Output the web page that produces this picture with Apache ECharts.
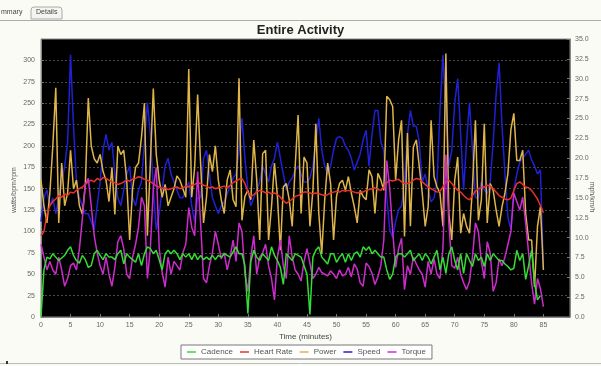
<!DOCTYPE html>
<html><head><meta charset="utf-8">
<script src="https://cdn.jsdelivr.net/npm/echarts@6/dist/echarts.min.js"></script>
<style>html,body{margin:0;padding:0;background:#fbfbf6;}#c{width:601px;height:366px;}</style>
</head><body><div id="c"></div>
<script>
const title = 'Entire Activity';
const seriesNames = ['Cadence', 'Heart Rate', 'Power', 'Speed', 'Torque'];
const time = [0,0.5,1,1.5,2,2.5,3,3.5,4,4.5,5,5.5,6,6.5,7,7.5,8,8.5,9,9.5,10,10.5,11,11.5,12,12.5,13,13.5,14,14.5,15,15.5,16,16.5,17,17.5,18,18.5,19,19.5,20,20.5,21,21.5,22,22.5,23,23.5,24,24.5,25,25.5,26,26.5,27,27.5,28,28.5,29,29.5,30,30.5,31,31.5,32,32.5,33,33.5,34,34.5,35,35.5,36,36.5,37,37.5,38,38.5,39,39.5,40,40.5,41,41.5,42,42.5,43,43.5,44,44.5,45,45.5,46,46.5,47,47.5,48,48.5,49,49.5,50,50.5,51,51.5,52,52.5,53,53.5,54,54.5,55,55.5,56,56.5,57,57.5,58,58.5,59,59.5,60,60.5,61,61.5,62,62.5,63,63.5,64,64.5,65,65.5,66,66.5,67,67.5,68,68.5,69,69.5,70,70.5,71,71.5,72,72.5,73,73.5,74,74.5,75,75.5,76,76.5,77,77.5,78,78.5,79,79.5,80,80.5,81,81.5,82,82.5,83,83.5,84,84.5,85];
const power = [160,130,110,145,200,268,110,180,130,145,195,150,160,130,120,155,256,200,185,180,190,170,160,135,175,120,200,190,195,160,90,150,175,180,210,250,95,180,267,190,160,140,155,130,140,150,165,160,150,140,290,140,175,260,180,110,140,190,170,200,160,
 137,121,160,172,137,129,279,113,141,148,137,207,160,90,191,195,90,129,180,141,78,152,156,137,106,176,236,121,187,180,106,148,226,121,74,137,180,156,90,141,156,160,148,164,145,129,110,148,141,137,172,164,121,168,
 160,148,258,254,246,160,207,230,94,215,106,199,207,176,145,106,129,230,164,152,145,106,308,121,90,160,187,98,121,106,98,152,230,113,137,226,110,156,148,125,106,129,145,168,219,238,183,183,195,121,90,90,35,106,129,55];
const speed = [12,15,16,14,15,13,15,17,19,22,33,24,17,15,14,13,13,12,11,14,17,21,23,21,22,18,15,14,16,18,19,15,14,16,17,22,27,23,16,11,13,16,19,20,18,17,16,15,15,16,17,14,12,15,15,20,21,18,15,14,13,
 14,14.5,15.5,16.5,17.5,18,21,25,20,16,14,15,16,17,19,18,17,19,20,22,20,18,16,17,17.5,18.5,19,18,17,17,17.5,19,22,25,21,19,18,19,21,22.5,22.7,22.5,21.5,21,20,18.5,19.5,20.5,22.3,23.5,19,23,26,26,
 22,21,15,11,10,12,13.5,14,17,23,26,24,24,22,17,18,16,14.5,15,17,26,33,26,19,21,27,30,23,16,22,27,21,15,15,17,16,15.5,17,22,28,32,24,18,12.5,11,16,18,19.5,20,20.5,21,19.8,19,18,18.5,6];
const heartRate = [95,100,120,130,135,138,142,140,144,142,146,145,148,150,152,155,158,160,158,162,160,163,162,160,158,157,155,156,158,160,159,161,162,164,163,161,160,158,156,153,152,150,151,149,150,151,152,150,151,153,152,154,155,157,156,154,153,151,152,150,151,
 152,153,151,154,157,159,161,162,156,146,141,143,146,148,147,145,146,144,145,143,140,136,133,135,138,141,142,144,146,146,145,144,145,144,143,142,143,145,146,147,146,148,147,148,147,146,145,146,146,148,149,150,151,149,
 148,152,157,160,159,160,161,158,156,156,157,160,162,161,158,155,152,150,148,146,147,152,158,160,156,152,148,146,142,139,137,142,147,150,151,152,154,153,150,146,142,140,138,137,139,148,156,158,155,152,151,148,143,138,130,122];
const torque = [85,70,55,65,55,50,70,55,36,45,60,63,55,80,115,155,162,130,95,75,60,50,70,50,36,58,88,95,80,50,45,70,85,105,140,130,45,80,150,175,80,52,35,70,50,65,60,55,75,85,128,105,95,170,110,45,40,60,75,100,85,
 68,75,55,70,90,65,110,100,50,30,70,95,50,70,75,85,60,45,20,70,90,60,45,95,70,55,50,42,65,80,63,45,50,58,52,50,48,54,50,45,55,48,50,58,47,62,56,40,36,63,59,51,38,47,
 60,90,183,150,100,58,80,92,32,60,50,70,62,55,50,35,65,50,68,50,45,80,190,110,60,57,70,50,40,32,42,70,110,100,65,45,88,75,30,40,68,60,70,85,100,145,135,125,140,110,75,40,15,45,33,12];
const cadence = [0,55,70,68,74,70,66,69,72,78,82,72,66,63,72,67,58,60,74,78,72,67,74,70,70,67,74,78,62,74,70,67,64,74,60,74,82,80,74,78,67,55,74,78,74,78,74,67,74,70,74,67,74,67,72,67,70,67,72,67,72,
 70,74,72,70,76,82,74,74,60,4,65,78,70,66,74,70,66,82,72,66,58,38,74,70,66,74,72,70,60,50,3,70,78,82,70,66,62,74,74,64,70,74,64,74,66,74,76,70,82,78,82,74,78,
 74,70,70,55,44,50,70,74,74,70,74,78,66,70,74,66,74,70,62,70,78,55,70,51,74,82,66,55,74,51,74,66,59,74,66,70,59,74,66,74,70,66,66,62,59,55,57,78,66,74,44,60,78,40,20,25];
const leftTicks = {min: 0, max: 325, interval: 25};
const rightTicks = {min: 0, max: 35, interval: 2.5};
const xTicks = {min: 0, max: 89.5, interval: 5};

const colors = {Cadence:'#33dd33','Heart Rate':'#e8332a',Power:'#dfb54a',Speed:'#2020d4',Torque:'#cc2ccc'};
const FONT = "'Liberation Sans', Arial, sans-serif";
function pairs(arr){ return time.map((t,i)=>[t, arr[i]]); }
function mk(name, arr, yIdx, z){
  return {name, type:'line', data:pairs(arr), yAxisIndex:yIdx, showSymbol:false, symbol:'none',
    lineStyle:{width:1.5, color:colors[name]}, itemStyle:{color:colors[name]}, z, animation:false};
}
const chart = echarts.init(document.getElementById('c'), null, {renderer:'canvas'});
chart.setOption({
  backgroundColor:'#fbfbf6',
  animation:false,
  title:{text:title, left:'center', top:19, textStyle:{fontSize:13, fontWeight:'bold', color:'#222', fontFamily:FONT}},
  grid:{left:41, right:31, top:39, bottom:49, containLabel:false, outerBoundsMode:'none', show:true, backgroundColor:'#000', borderColor:'#888', borderWidth:1},
  legend:{data:seriesNames, left:181, top:345, padding:[3,6], itemGap:7, itemWidth:9, itemHeight:1.5, icon:'rect',
    borderColor:'#777', borderWidth:1, backgroundColor:'#fff',
    textStyle:{fontSize:8, color:'#555', fontFamily:FONT}},
  xAxis:{type:'value', min:xTicks.min, max:xTicks.max, interval:xTicks.interval,
    name:'Time (minutes)', nameLocation:'middle', nameGap:16, nameMoveOverlap:false, nameTextStyle:{fontSize:8, color:'#444', fontFamily:FONT},
    axisLine:{show:true, lineStyle:{color:'#888'}}, axisTick:{show:true, inside:true, length:3, lineStyle:{color:'#777'}},
    axisLabel:{fontSize:7, color:'#666', margin:5, showMaxLabel:false, fontFamily:FONT}, splitLine:{show:false}},
  yAxis:[
    {type:'value', min:leftTicks.min, max:leftTicks.max, interval:leftTicks.interval, position:'left',
     name:'watts/bpm/rpm', nameLocation:'middle', nameGap:23, nameMoveOverlap:false, nameTextStyle:{fontSize:7, color:'#555', fontFamily:FONT, padding:[0,0,0,-24]},
     axisLine:{show:true, lineStyle:{color:'#888'}}, axisTick:{show:true, inside:true, length:3, lineStyle:{color:'#777'}},
     axisLabel:{fontSize:7, color:'#666', margin:6, showMaxLabel:false, fontFamily:FONT},
     splitLine:{show:true, lineStyle:{color:'#4a4a4a', type:[2,2], width:1}}},
    {type:'value', min:rightTicks.min, max:rightTicks.max, interval:rightTicks.interval, position:'right',
     name:'mph/km/h', nameLocation:'middle', nameGap:18, nameRotate:-90, nameMoveOverlap:false, nameTextStyle:{fontSize:7, color:'#555', fontFamily:FONT, padding:[0,0,0,38]},
     axisLine:{show:true, lineStyle:{color:'#888'}}, axisTick:{show:true, inside:true, length:3, lineStyle:{color:'#777'}},
     axisLabel:{fontSize:7, color:'#666', margin:5, fontFamily:FONT, formatter:v=>v.toFixed(1)},
     splitLine:{show:false}}
  ],
  graphic:[
    {type:'text', left:1, top:9, style:{text:'mmary', fontSize:7, fill:'#444', fontFamily:FONT}},
    {type:'rect', shape:{x:31, y:7, width:31, height:12, r:[3,3,0,0]}, style:{fill:'#f4f4f0', stroke:'#aaa', lineWidth:1}},
    {type:'text', left:36, top:9, style:{text:'Details', fontSize:7, fill:'#444', fontFamily:FONT}},
    {type:'line', shape:{x1:0, y1:20.5, x2:601, y2:20.5}, style:{stroke:'#aaa', lineWidth:1}},
    {type:'line', shape:{x1:0, y1:363.5, x2:601, y2:363.5}, style:{stroke:'#bbb', lineWidth:1}},
    {type:'rect', shape:{x:6, y:361, width:2, height:3}, style:{fill:'#333'}}
  ],
  series:[
    mk('Speed', speed, 1, 2),
    mk('Power', power, 0, 3),
    mk('Heart Rate', heartRate, 0, 4),
    mk('Torque', torque, 0, 5),
    mk('Cadence', cadence, 0, 6)
  ]
});
</script></body></html>
